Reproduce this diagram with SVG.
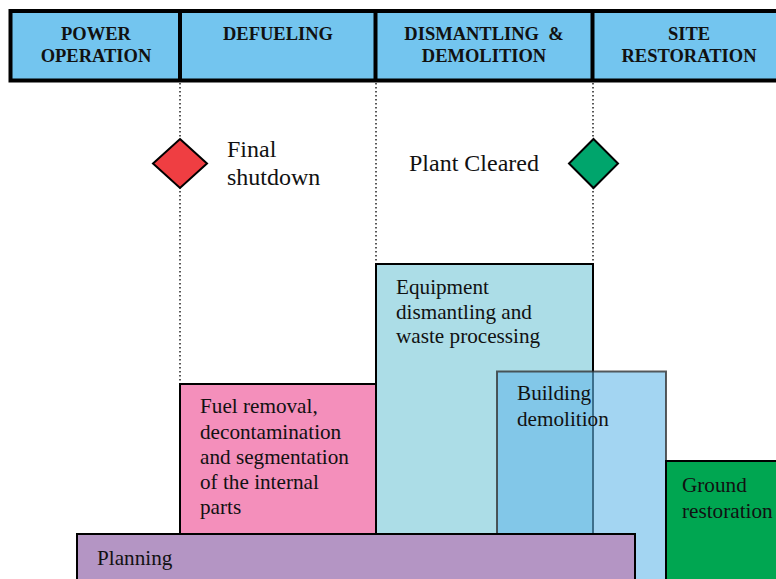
<svg xmlns="http://www.w3.org/2000/svg" width="776" height="579" viewBox="0 0 776 579">
<style>
.hd{font-family:"Liberation Serif",serif;font-weight:bold;font-size:18.5px;fill:#111;text-anchor:middle}
.t{font-family:"Liberation Serif",serif;font-size:21.2px;fill:#111}
.m{font-family:"Liberation Serif",serif;font-size:24px;fill:#111}
.dot{stroke:#111;stroke-width:1.4;stroke-dasharray:1.4 2.6;fill:none}
.box{stroke:#000;stroke-width:2}
</style>
<rect width="776" height="579" fill="#fff"/>
<g id="header">
<rect x="10.5" y="11" width="780" height="69.5" fill="#73c5ef" stroke="#000" stroke-width="4"/>
<line x1="180" y1="11" x2="180" y2="80" stroke="#000" stroke-width="4"/>
<line x1="375.5" y1="11" x2="375.5" y2="80" stroke="#000" stroke-width="4"/>
<line x1="592.5" y1="11" x2="592.5" y2="80" stroke="#000" stroke-width="4"/>
<text class="hd" x="96" y="40">POWER</text>
<text class="hd" x="96" y="62">OPERATION</text>
<text class="hd" x="278" y="40">DEFUELING</text>
<text class="hd" x="484" y="40" xml:space="preserve">DISMANTLING  &amp;</text>
<text class="hd" x="484" y="62">DEMOLITION</text>
<text class="hd" x="689" y="40">SITE</text>
<text class="hd" x="689" y="62">RESTORATION</text>
</g>
<g id="connectors">
<line class="dot" x1="180" y1="83" x2="180" y2="384"/>
<line class="dot" x1="376" y1="83" x2="376" y2="264"/>
<line class="dot" x1="593" y1="83" x2="593" y2="300"/>
</g>
<g id="final-shutdown">
<polygon points="180,139 207,163.5 180,188 153,163.5" fill="#ef3e42" stroke="#000" stroke-width="2"/>
<text class="m" x="227" y="157">Final</text>
<text class="m" x="227" y="185">shutdown</text>
</g>
<g id="plant-cleared">
<polygon points="593.5,139 618,163.5 593.5,188 569,163.5" fill="#00a56c" stroke="#000" stroke-width="2"/>
<text class="m" x="409" y="171">Plant Cleared</text>
</g>
<g id="fuel-removal">
<rect class="box" x="180" y="384" width="196" height="150" fill="#f48fbb"/>
<text class="t" x="200" y="413">Fuel removal,</text>
<text class="t" x="200" y="438.5">decontamination</text>
<text class="t" x="200" y="464">and segmentation</text>
<text class="t" x="200" y="489">of the internal</text>
<text class="t" x="200" y="514">parts</text>
</g>
<g id="equipment-dismantling">
<rect class="box" x="376" y="264" width="217" height="320" fill="#acdde7"/>
<text class="t" x="396" y="294">Equipment</text>
<text class="t" x="396" y="318.5">dismantling and</text>
<text class="t" x="396" y="343">waste processing</text>
</g>
<g id="building-demolition">
<rect x="497" y="371.5" width="169" height="215" fill="#66b9e9" fill-opacity="0.6" stroke="#333" stroke-opacity="0.8" stroke-width="2"/>
<text class="t" x="517" y="400">Building</text>
<text class="t" x="517" y="426">demolition</text>
</g>
<g id="ground-restoration">
<rect class="box" x="666" y="461" width="120" height="125" fill="#00a651"/>
<text class="t" x="682" y="492">Ground</text>
<text class="t" x="682" y="518">restoration</text>
</g>
<g id="planning">
<rect class="box" x="77" y="534" width="558" height="52" fill="#b495c4"/>
<text class="t" x="97" y="565">Planning</text>
</g>
</svg>
